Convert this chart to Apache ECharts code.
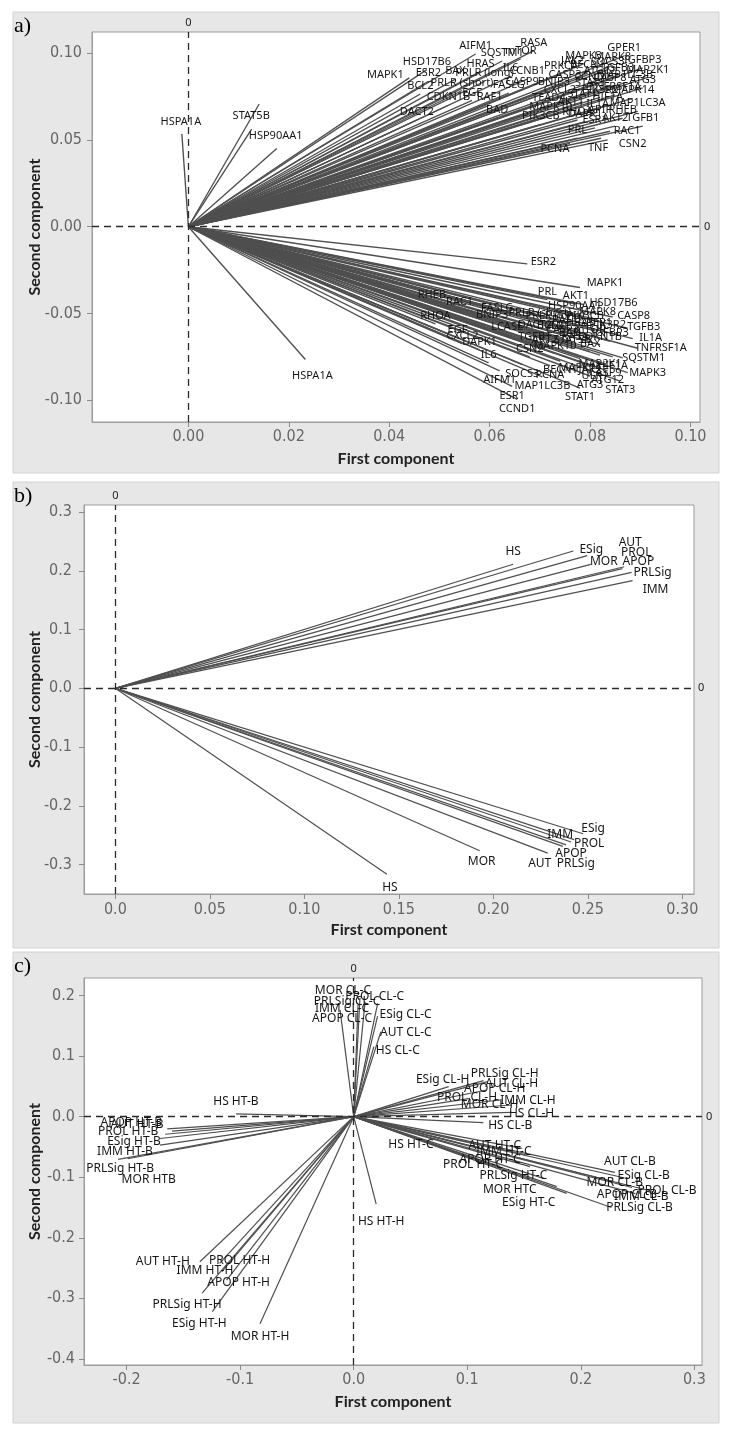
<!DOCTYPE html>
<html><head><meta charset="utf-8">
<script src="https://cdn.jsdelivr.net/npm/echarts@6/dist/echarts.min.js"></script>
<style>html,body{margin:0;padding:0;background:#fff}#c{width:729px;height:1436px}</style>
</head><body><div id="c"></div>
<script>
// ---------- Panel a: loadings (upper fan) ----------
const aUpNames = ["HSPA1A","STAT5B","HSP90AA1","","MAPK1","HSD17B6","ESR2","BCL2","DACT2","CDKN1B","BAX","PRLR (short)","EGF","AIFM1","HRAS","PRLR (long)","RAF1","BAD","SQSTM1","IL6","FASLG","mTOR","CASP9","CCNB1","RASA","PIK3CB","MAPK10","TEAD4","BNIP3","PRKCA","AKT1","PRL","PCNA","TNF","ESR1","MAPK3","GPER1","IGFBP3","MAP2K1","ATG3","MAPK14","HIF1A","MAP1LC3A","APIP","RHEB","AKT2","TGFB1","RAC1","CSN2","CASP3","STAT3","STAT1","ATG12","BECN1","CASP8","TGFB3","IL1A","TNFRSF1A","SOCS3","CXCL2","RHOA","PIK3R2","MAP1LC3B","DAPK1","CCND1","MAPK8","JAK2"];
const aUpX = [-0.0013,0.0141,0.0126,0.0176,0.0440,0.0475,0.0478,0.0462,0.0455,0.0518,0.0532,0.0545,0.0565,0.0572,0.0582,0.0590,0.0600,0.0615,0.0625,0.0642,0.0638,0.0662,0.0665,0.0675,0.0688,0.0702,0.0722,0.0718,0.0728,0.0742,0.0762,0.0775,0.0760,0.0822,0.0810,0.0787,0.0868,0.0905,0.0915,0.0905,0.0885,0.0835,0.0895,0.0820,0.0865,0.0850,0.0905,0.0840,0.0835,0.0750,0.0800,0.0785,0.0820,0.0795,0.0840,0.0855,0.0815,0.0850,0.0835,0.0740,0.0775,0.0820,0.0870,0.0790,0.0805,0.0845,0.0765];
const aUpY = [0.0534,0.0707,0.0563,0.0451,0.0858,0.0905,0.0838,0.0765,0.0615,0.0700,0.0850,0.0785,0.0728,0.0995,0.0895,0.0838,0.0700,0.0625,0.0955,0.0868,0.0770,0.0968,0.0790,0.0850,0.1015,0.0590,0.0645,0.0698,0.0790,0.0880,0.0675,0.0510,0.0480,0.0510,0.0570,0.0938,0.0985,0.0915,0.0860,0.0800,0.0740,0.0700,0.0665,0.0625,0.0625,0.0580,0.0580,0.0550,0.0500,0.0830,0.0780,0.0720,0.0850,0.0885,0.0810,0.0870,0.0660,0.0760,0.0905,0.0745,0.0615,0.0745,0.0830,0.0605,0.0820,0.0930,0.0910];
// ---------- Panel a: loadings (lower fan) ----------
const aLoNames = ["HSPA1A","ESR2","MAPK1","PRL","AKT1","HSD17B6","RHEB","RAC1","FASLG","BNIP3","PRLR (short)","MAPK8","CASP8","RHOA","PIK3R2","TGFB3","LCASE","EGF","CXCL2","DAPK1","IL6","IL1A","TNFRSF1A","SQSTM1","MAPK3","BECN1","AIFM1","MAP1LC3B","ATG3","ATG12","STAT3","ESR1","STAT1","CCND1","SOCS3","PRLR (long)","CASP9","BAX","BAD","HRAS","CDKN1B","RAF1","PIK3CB","mTOR","GPER1","IGFBP3","MAP2K1","MAPK14","MAPK10","AKT2","TGFB1","CSN2","PCNA","TNF","HIF1A","ULK1","STAT5B","HSP90AA1","BCL2","DACT2","CASP3","RASA","JAK2"];
const aLoX = [0.0233,0.0675,0.0780,0.0715,0.0772,0.0787,0.0485,0.0540,0.0615,0.0605,0.0700,0.0815,0.0845,0.0492,0.0835,0.0875,0.0635,0.0536,0.0546,0.0580,0.0598,0.0885,0.0895,0.0865,0.0875,0.0741,0.0620,0.0705,0.0800,0.0835,0.0860,0.0645,0.0780,0.0655,0.0665,0.0730,0.0830,0.0800,0.0760,0.0780,0.0820,0.0750,0.0790,0.0800,0.0810,0.0840,0.0820,0.0780,0.0730,0.0710,0.0690,0.0680,0.0720,0.0740,0.0845,0.0810,0.0765,0.0770,0.0720,0.0690,0.0745,0.0770,0.0800];
const aLoY = [-0.0765,-0.0214,-0.0350,-0.0420,-0.0445,-0.0448,-0.0440,-0.0480,-0.0515,-0.0555,-0.0540,-0.0535,-0.0520,-0.0560,-0.0610,-0.0585,-0.0625,-0.0640,-0.0675,-0.0710,-0.0785,-0.0645,-0.0700,-0.0755,-0.0840,-0.0775,-0.0830,-0.0865,-0.0860,-0.0830,-0.0890,-0.0920,-0.0930,-0.0995,-0.0795,-0.0560,-0.0790,-0.0720,-0.0660,-0.0600,-0.0680,-0.0580,-0.0560,-0.0640,-0.0600,-0.0660,-0.0740,-0.0760,-0.0730,-0.0700,-0.0680,-0.0750,-0.0800,-0.0620,-0.0750,-0.0810,-0.0700,-0.0500,-0.0620,-0.0610,-0.0640,-0.0680,-0.0770];
const aXTicks = [0, 0.02, 0.04, 0.06, 0.08, 0.10];
const aXTickLabels = ["0.00","0.02","0.04","0.06","0.08","0.10"];
const aYTicks = [-0.10, -0.05, 0, 0.05, 0.10];
const aYTickLabels = ["-0.10","-0.05","0.00","0.05","0.10"];

// ---------- Panel b ----------
const bNames = ["HS","ESig","AUT","MOR","PROL","APOP","PRLSig","IMM","ESig","IMM","PROL","APOP","PRLSig","AUT","MOR","HS"];
const bX = [0.2105,0.2423,0.2497,0.2516,0.2693,0.2683,0.2732,0.2737,0.2475,0.2428,0.2412,0.2385,0.2368,0.2288,0.1928,0.1437];
const bY = [0.2110,0.2336,0.2257,0.2110,0.2069,0.2035,0.1974,0.1831,-0.2475,-0.2575,-0.2615,-0.2665,-0.2690,-0.2805,-0.2765,-0.3165];
const bXTicks = [0, 0.05, 0.10, 0.15, 0.20, 0.25, 0.30];
const bXTickLabels = ["0.0","0.05","0.10","0.15","0.20","0.25","0.30"];
const bYTicks = [-0.3, -0.2, -0.1, 0, 0.1, 0.2, 0.3];
const bYTickLabels = ["-0.3","-0.2","-0.1","0.0","0.1","0.2","0.3"];

// ---------- Panel c ----------
const cNames = ["MOR CL-C","PROL CL-C","PRLSig CL-C","IMM CL-C","APOP CL-C","ESig CL-C","AUT CL-C","HS CL-C",
 "ESig CL-H","PRLSig CL-H","AUT CL-H","APOP CL-H","PROL CL-H","IMM CL-H","MOR CL-H","HS CL-H",
 "HS CL-B","AUT CL-B","ESig CL-B","MOR CL-B","APOP CL-B","PROL CL-B","IMM CL-B","PRLSig CL-B",
 "HS HT-C","AUT HT-C","IMM HT-C","APOP HT-C","PROL HT-C","PRLSig HT-C","MOR HTC","ESig HT-C",
 "HS HT-B","APOP HT-B","AUT HT-B","PROL HT-B","ESig HT-B","IMM HT-B","PRLSig HT-B","MOR HTB",
 "AUT HT-H","PROL HT-H","IMM HT-H","APOP HT-H","PRLSig HT-H","ESig HT-H","MOR HT-H","HS HT-H"];
const cX = [0.0055,0.0211,0.0100,0.0038,-0.0120,0.0210,0.0239,0.0177,
 0.0836,0.1144,0.1180,0.1171,0.1024,0.1288,0.1390,0.1390,
 0.1141,0.230,0.236,0.229,0.245,0.260,0.248,0.227,
 0.068,0.148,0.1524,0.1553,0.1288,0.167,0.1788,0.1876,
 -0.1037,-0.1642,-0.160,-0.166,-0.1706,-0.1706,-0.2074,-0.199,
 -0.1355,-0.1181,-0.1160,-0.1119,-0.1335,-0.1245,-0.0825,0.0198];
const cY = [0.196,0.187,0.190,0.1845,0.176,0.1663,0.1404,0.1156,
 0.0496,0.0595,0.0580,0.0441,0.0303,0.0276,0.0193,0.0072,
 -0.0099,-0.092,-0.100,-0.107,-0.117,-0.122,-0.127,-0.150,
 -0.044,-0.0523,-0.0633,-0.0826,-0.0826,-0.1018,-0.1156,-0.1266,
 0.0045,-0.020,-0.024,-0.029,-0.036,-0.047,-0.0704,-0.0695,
 -0.2396,-0.2422,-0.2560,-0.2698,-0.2913,-0.3221,-0.3419,-0.1443];
const cXTicks = [-0.2, -0.1, 0, 0.1, 0.2, 0.3];
const cXTickLabels = ["-0.2","-0.1","0.0","0.1","0.2","0.3"];
const cYTicks = [-0.4, -0.3, -0.2, -0.1, 0, 0.1, 0.2];
const cYTickLabels = ["-0.4","-0.3","-0.2","-0.1","0.0","0.1","0.2"];

// ---------- label placement (pixel offsets of label centre from line end) ----------
const TOP = [0,-8], BOT = [0,9];
const aUpOff = {"HSPA1A":[-1,-12],"STAT5B":[-8,12],"HSP90AA1":[24,7],"MAPK1":[-24,-3],"PCNA":[-15,5],"TNF":[-3,10],"RAC1":[17,0],"CSN2":[25,4]};
const aLoOff = {"HSPA1A":[7,16],"ESR2":[16,-2],"MAPK1":[25,-5],"HSD17B6":[30,-2],"CASP8":[21,-1],"TGFB3":[16,-1],"IL1A":[18,-1],"TNFRSF1A":[23,0],"SQSTM1":[21,0],"MAPK3":[20,0]};
const aLoTop = ["PRL","AKT1","RHEB","RAC1","FASLG","BNIP3","PRLR (short)","MAPK8","RHOA","PIK3R2","LCASE","EGF","CXCL2","DAPK1","IL6","PRLR (long)","BAX","BAD","HRAS","CDKN1B","RAF1","PIK3CB","mTOR","GPER1","IGFBP3","MAPK10","AKT2","TGFB1","CSN2","TNF","STAT5B","HSP90AA1","BCL2","DACT2","CASP3","RASA"];
const bOff = [[0,-13],[18,-1],[43,-13],[13,-3],[12,-14],[16,-7],[21,0],[23,9],[10,-5],[-14,-5],[18,2],[5,9],[13,17],[-8,10],[2,11],[3,13]];
const cOff = [[-17,-7],[-3,-7],[-18,0],[-16,4],[2,8],[28,-1],[25,1],[24,4],
 [-6,-7],[21,-7],[24,2],[8,-1],[-3,-1],[28,1],[-22,0],[20,1],
 [27,3],[15,-11],[22,-2],[1,1],[-5,7],[18,0],[6,3],[28,0],
 [-20,1],[-27,-3],[-23,-3],[-40,-7],[-27,-2],[-30,-3],[-47,3],[-38,9],
 [0,-12],[-36,-6],[-35,-7],[-37,-3],[-26,3],[-35,6],[2,9],[21,21],
 [-37,0],[20,-3],[-17,-1],[12,3],[-15,12],[-13,12],[0,13],[5,18]];

const aUpOffs = aUpNames.map(n => aUpOff[n] || TOP);
const aLoOffs = aLoNames.map(n => aLoOff[n] || (aLoTop.indexOf(n) >= 0 ? TOP : BOT));

const panels = [
 {tag:'a)', box:[13,12,706,461], grid:{left:92,top:32,width:608,height:390},
  xMin:-0.0192, xMax:0.1019, yMin:-0.1125, yMax:0.1122,
  xT:aXTicks, xL:aXTickLabels, yT:aYTicks, yL:aYTickLabels, yMargin:10, xMargin:7, yGap:49, xGap:29, fs:11, lw:1.35,
  groups:[{n:aUpNames,x:aUpX,y:aUpY,o:aUpOffs},{n:aLoNames,x:aLoX,y:aLoY,o:aLoOffs}]},
 {tag:'b)', box:[13,482,706,466], grid:{left:84,top:505,width:610,height:389},
  xMin:-0.0166, xMax:0.3062, yMin:-0.350, yMax:0.3119,
  xT:bXTicks, xL:bXTickLabels, yT:bYTicks, yL:bYTickLabels, yMargin:12, xMargin:8, yGap:41, xGap:28, fs:12, lw:1.2,
  groups:[{n:bNames,x:bX,y:bY,o:bOff}]},
 {tag:'c)', box:[13,952,706,471], grid:{left:84,top:978,width:618,height:387},
  xMin:-0.2375, xMax:0.3067, yMin:-0.4102, yMax:0.2291,
  xT:cXTicks, xL:cXTickLabels, yT:cYTicks, yL:cYTickLabels, yMargin:9, xMargin:7, yGap:41, xGap:29, fs:12, lw:1.2,
  groups:[{n:cNames,x:cX,y:cY,o:cOff}]}
];

const tickFont = "'Liberation Sans Narrow','DejaVu Sans Condensed',sans-serif";
const nameStyle = {fontFamily:'Lato', fontWeight:'bold', fontSize:16, color:'#222'};
function fmt(ticks, labels){ return v => { const i = ticks.findIndex(t => Math.abs(t - v) < 1e-9); return i >= 0 ? labels[i] : ''; }; }

const grids = [], xAxes = [], yAxes = [], series = [], graphics = [];
panels.forEach((p, gi) => {
  graphics.push({type:'rect', z:-100, shape:{x:p.box[0], y:p.box[1], width:p.box[2], height:p.box[3]}, style:{fill:'#e7e7e7', stroke:'#d2d2d2', lineWidth:1}});
  graphics.push({type:'text', z:100, left:p.box[0] + 1, top:p.box[1] + 3, style:{text:p.tag, font:"22px 'Liberation Serif', serif", fill:'#000'}});
  grids.push(Object.assign({show:true, backgroundColor:'#fff', borderColor:'#9c9c9c', borderWidth:1, containLabel:false}, p.grid));
  xAxes.push({gridIndex:gi, type:'value', min:p.xMin, max:p.xMax,
    axisLine:{show:true, onZero:false, lineStyle:{color:'#9c9c9c'}},
    axisTick:{show:true, customValues:p.xT, length:5, lineStyle:{color:'#8a8a8a'}},
    axisLabel:{customValues:p.xT, formatter:fmt(p.xT, p.xL), color:'#666', fontSize:16, fontFamily:tickFont, margin:p.xMargin},
    splitLine:{show:false},
    name:'First component', nameLocation:'middle', nameGap:p.xGap, nameMoveOverlap:false, nameTextStyle:nameStyle});
  yAxes.push({gridIndex:gi, type:'value', min:p.yMin, max:p.yMax,
    axisLine:{show:true, onZero:false, lineStyle:{color:'#9c9c9c'}},
    axisTick:{show:true, customValues:p.yT, length:5, lineStyle:{color:'#8a8a8a'}},
    axisLabel:{customValues:p.yT, formatter:fmt(p.yT, p.yL), color:'#666', fontSize:16, fontFamily:tickFont, margin:p.yMargin},
    splitLine:{show:false},
    name:'Second component', nameLocation:'middle', nameGap:p.yGap, nameMoveOverlap:false, nameTextStyle:nameStyle});
  // reference lines through the origin
  series.push({type:'scatter', xAxisIndex:gi, yAxisIndex:gi, data:[[0,0]], symbolSize:0, silent:true,
    markLine:{silent:true, symbol:['none','none'], animation:false,
      lineStyle:{type:[7,5], color:'#2a2a2a', width:1.3},
      label:{show:true, formatter:'0', position:'end', distance:4, color:'#222', fontSize:11, fontFamily:'Noto Sans'},
      data:[{xAxis:0},{yAxis:0}]}});
  // loading vectors
  p.groups.forEach(g => {
    const data = g.x.map((x, i) => [x, g.y[i]]);
    series.push({type:'custom', xAxisIndex:gi, yAxisIndex:gi, data, silent:true, animation:false, z:3,
      renderItem:(params, api) => {
        const p0 = api.coord([0, 0]), p1 = api.coord([api.value(0), api.value(1)]);
        return {type:'line', shape:{x1:p0[0], y1:p0[1], x2:p1[0], y2:p1[1]}, style:{stroke:'#4f4f4f', lineWidth:p.lw}};
      }});
  });
  p.groups.forEach(g => {
    const data = g.x.map((x, i) => [x, g.y[i]]);
    series.push({type:'custom', xAxisIndex:gi, yAxisIndex:gi, data, silent:true, animation:false, z:5,
      renderItem:(params, api) => {
        const i = params.dataIndex, name = g.n[i];
        if (!name) return null;
        const p1 = api.coord([api.value(0), api.value(1)]);
        const o = g.o[i];
        return {type:'text', x:p1[0] + o[0], y:p1[1] + o[1],
          style:{text:name, fill:'#161616', font:p.fs + "px 'Noto Sans', sans-serif", align:'center', verticalAlign:'middle'}};
      }});
  });
});

const chart = echarts.init(document.getElementById('c'), null, {renderer:'canvas'});
chart.setOption({animation:false, backgroundColor:'#fff', graphic:graphics, grid:grids, xAxis:xAxes, yAxis:yAxes, series});
</script></body></html>
